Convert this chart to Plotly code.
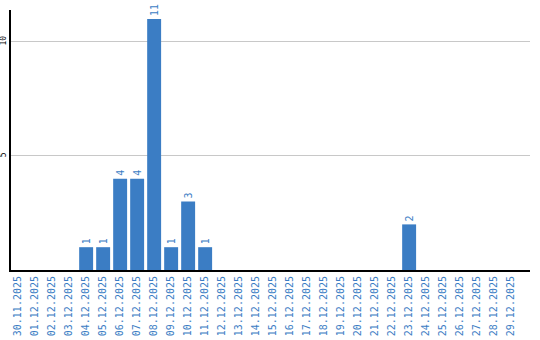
import plotly.graph_objects as go

dates = ["30.11.2025", "01.12.2025", "02.12.2025", "03.12.2025", "04.12.2025", "05.12.2025",
         "06.12.2025", "07.12.2025", "08.12.2025", "09.12.2025", "10.12.2025", "11.12.2025",
         "12.12.2025", "13.12.2025", "14.12.2025", "15.12.2025", "16.12.2025", "17.12.2025",
         "18.12.2025", "19.12.2025", "20.12.2025", "21.12.2025", "22.12.2025", "23.12.2025",
         "24.12.2025", "25.12.2025", "26.12.2025", "27.12.2025", "28.12.2025", "29.12.2025"]
counts = [0, 0, 0, 0, 1, 1, 4, 4, 11, 1, 3, 1, 0, 0, 0, 0, 0, 0,
          0, 0, 0, 0, 0, 2, 0, 0, 0, 0, 0, 0]
y_ticks = [5, 10]

labels = [str(v) if v else "" for v in counts]

fig = go.Figure(go.Bar(
    x=list(range(len(dates))), y=counts,
    marker=dict(color="#3b7dc4", line=dict(width=0)),
    text=labels, textposition="outside", textangle=-90,
    textfont=dict(family="DejaVu Sans Mono", size=10, color="#3b7dc4"),
    cliponaxis=False,
))
fig.update_layout(
    width=540, height=340, margin=dict(l=11, r=10, t=10, b=70),
    plot_bgcolor="white", paper_bgcolor="white",
    bargap=0.18, showlegend=False,
    xaxis=dict(range=[-0.42, 30.11], tickmode="array", tickvals=list(range(len(dates))),
               ticktext=dates, tickangle=-90, showgrid=False, showline=True,
               linecolor="black", linewidth=2, ticks="", automargin=False,
               tickfont=dict(family="DejaVu Sans Mono", size=10, color="#3b7dc4")),
    yaxis=dict(range=[0, 11.4], tickmode="array", tickvals=y_ticks, tickangle=-90,
               showgrid=True, gridcolor="#c8c8c8", gridwidth=1, zeroline=False,
               showline=True, linecolor="black", linewidth=2, ticks="", automargin=False,
               ticklabelstandoff=0,
               tickfont=dict(family="DejaVu Sans Mono", size=8, color="black")),
)
fig.write_html("out.html")
